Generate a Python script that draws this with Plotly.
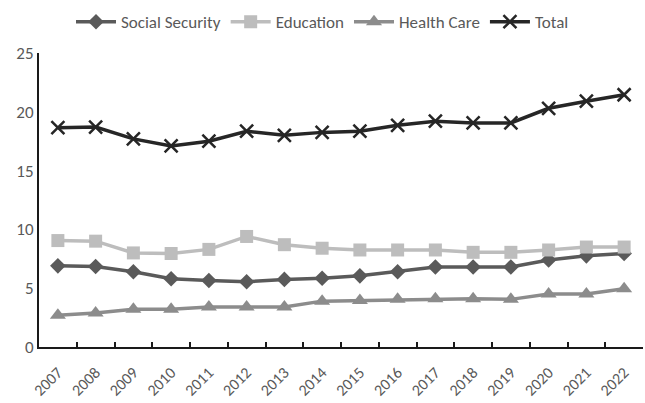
import plotly.graph_objects as go

years = [str(y) for y in range(2007, 2023)]
social_security = [6.9, 6.85, 6.4, 5.8, 5.65, 5.55, 5.75, 5.85, 6.05, 6.4, 6.8, 6.8, 6.8, 7.4, 7.75, 7.95]
education = [9.05, 9.0, 8.0, 7.95, 8.3, 9.4, 8.7, 8.4, 8.25, 8.25, 8.25, 8.05, 8.05, 8.25, 8.5, 8.5]
health_care = [2.7, 2.9, 3.2, 3.2, 3.4, 3.4, 3.4, 3.9, 3.95, 4.05, 4.1, 4.1, 4.05, 4.5, 4.5, 4.95]
total = [18.65, 18.7, 17.7, 17.1, 17.5, 18.35, 18.0, 18.25, 18.35, 18.85, 19.2, 19.05, 19.05, 20.3, 20.9, 21.45]

FONT = "Carlito, Lato, sans-serif"

series = [
    ("Social Security", social_security, "#5a5a5a", "diamond", 12),
    ("Education", education, "#bdbdbd", "square", 13),
    ("Health Care", health_care, "#8c8c8c", "triangle-up", 14),
    ("Total", total, "#262626", "x-thin", 13),
]

fig = go.Figure()
for name, vals, color, sym, size in series:
    marker = dict(symbol=sym, size=size, color=color)
    if sym == "x-thin":
        marker["line"] = dict(color=color, width=2.5)
    fig.add_trace(go.Scatter(
        x=years, y=vals, name=name, mode="lines+markers",
        line=dict(color=color, width=3.5), marker=marker,
    ))

fig.update_layout(
    width=645, height=403,
    margin=dict(l=39, r=2, t=53, b=56, autoexpand=False),
    paper_bgcolor="white", plot_bgcolor="white",
    font=dict(family=FONT, size=16, color="#595959"),
    legend=dict(orientation="h", x=0.5, xanchor="center", xref="container",
                y=0.945, yanchor="middle", yref="container",
                font=dict(size=17, color="#595959"), itemwidth=40,
                tracegroupgap=0),
    showlegend=True,
)
fig.update_xaxes(
    type="category", showgrid=False, showline=True, linecolor="#1a1a1a", linewidth=2,
    ticks="inside", tickson="boundaries", ticklen=5, tickcolor="#1a1a1a", tickwidth=1.5,
    tickangle=-45, tickfont=dict(size=16, color="#595959"), ticklabelstandoff=8,
    range=[-0.5, 15.5], automargin=False,
)
fig.update_yaxes(
    range=[0, 25], dtick=5, showgrid=False, showline=True, linecolor="#1a1a1a",
    linewidth=2, ticks="", zeroline=False, tickfont=dict(size=17, color="#595959"),
    automargin=False,
)

fig.write_html("out.html")
